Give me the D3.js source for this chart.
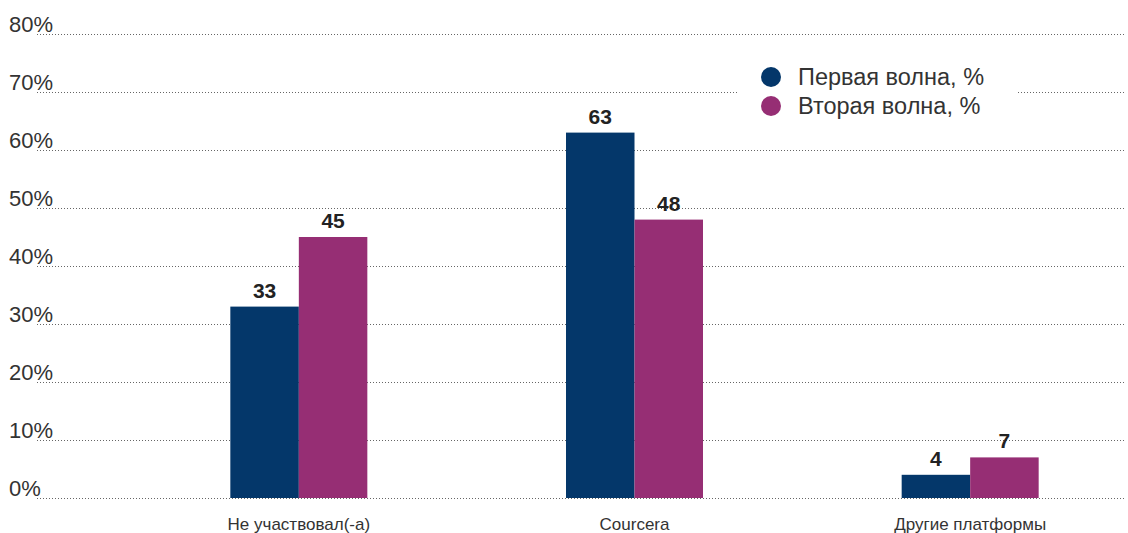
<!DOCTYPE html>
<html><head><meta charset="utf-8">
<script src="https://cdn.jsdelivr.net/npm/d3@7"></script>
<style>body{margin:0;background:#fff}svg{display:block}text{font-family:"Liberation Sans",Arial,sans-serif}</style>
</head><body>
<svg id="chart" width="1128" height="533"></svg>
<script>
const categories = ["Не участвовал(-а)", "Courcera", "Другие платформы"];
const seriesNames = ["Первая волна, %", "Вторая волна, %"];
const wave1 = [33, 63, 4];
const wave2 = [45, 48, 7];
const yTicks = [0, 10, 20, 30, 40, 50, 60, 70, 80];
const colors = ["#04376a", "#962e74"];

const svg = d3.select("#chart");
const y = d3.scaleLinear().domain([0, 80]).range([498, 34]);
const x = d3.scaleBand().domain(categories).range([131, 1138]).padding(0);
const x1 = d3.scaleBand().domain(seriesNames).range([0, 137]);

// gridlines
svg.append("g").selectAll("line").data(yTicks).join("line")
  .attr("x1", 37).attr("x2", 1126)
  .attr("y1", d => Math.round(y(d)) + 0.5).attr("y2", d => Math.round(y(d)) + 0.5)
  .attr("stroke", "#666").attr("stroke-width", 1).attr("stroke-dasharray", "1,2");

// y labels
svg.append("g").selectAll("text").data(yTicks).join("text")
  .attr("x", 9).attr("y", d => y(d) - 2)
  .attr("font-size", 22).attr("fill", "#333")
  .text(d => d + "%");

// legend background
svg.append("rect").attr("x", 738).attr("y", 58).attr("width", 280).attr("height", 64).attr("fill", "#fff");

const data = categories.map((c, i) => ({cat: c, vals: [wave1[i], wave2[i]]}));

const groups = svg.append("g").selectAll("g").data(data).join("g")
  .attr("transform", d => `translate(${x(d.cat) + x.bandwidth() / 2 - 68.5},0)`);

groups.selectAll("rect").data(d => d.vals.map((v, j) => ({s: seriesNames[j], v, j}))).join("rect")
  .attr("x", d => x1(d.s)).attr("width", x1.bandwidth())
  .attr("y", d => y(d.v)).attr("height", d => y(0) - y(d.v))
  .attr("fill", d => colors[d.j]);

groups.selectAll("text.val").data(d => d.vals.map((v, j) => ({s: seriesNames[j], v, j}))).join("text")
  .attr("class", "val")
  .attr("x", d => x1(d.s) + x1.bandwidth() / 2).attr("y", d => y(d.v) - 9)
  .attr("text-anchor", "middle").attr("font-size", 21).attr("font-weight", "bold").attr("fill", "#222")
  .text(d => d.v);

// category labels
svg.append("g").selectAll("text").data(categories).join("text")
  .attr("x", d => x(d) + x.bandwidth() / 2).attr("y", 530)
  .attr("text-anchor", "middle").attr("font-size", 17).attr("fill", "#333")
  .text(d => d);

// legend
const leg = svg.append("g").selectAll("g").data(seriesNames).join("g")
  .attr("transform", (d, i) => `translate(771,${77 + i * 29})`);
leg.append("circle").attr("r", 10).attr("fill", (d, i) => colors[i]);
leg.append("text").attr("x", 27).attr("y", 8).attr("font-size", 23.5).attr("fill", "#333").text(d => d);
</script>
</body></html>
